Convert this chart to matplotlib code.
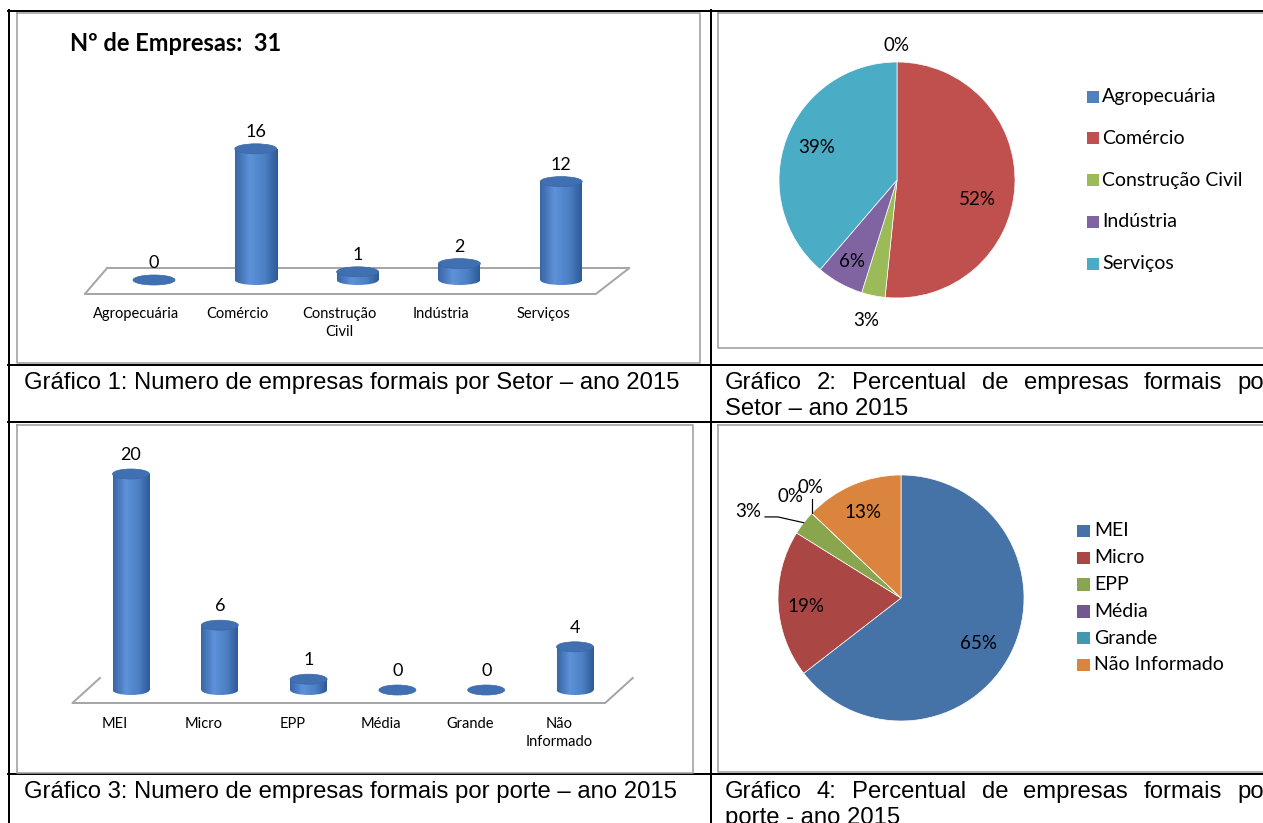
import numpy as np
import matplotlib
matplotlib.use("Agg")
import matplotlib.pyplot as plt
from matplotlib.patches import Ellipse, Rectangle
from matplotlib.colors import LinearSegmentedColormap

W, H = 1263, 823

# Gráfico 1 / 2 - setores
setores = ["Agropecuária", "Comércio", "Construção\nCivil", "Indústria", "Serviços"]
setores_legenda = ["Agropecuária", "Comércio", "Construção Civil", "Indústria", "Serviços"]
empresas_setor = [0, 16, 1, 2, 12]
cores_setor = ["#4F81BD", "#C0504D", "#9BBB59", "#8064A2", "#4BACC6"]

# Gráfico 3 / 4 - porte
portes = ["MEI", "Micro", "EPP", "Média", "Grande", "Não\nInformado"]
portes_legenda = ["MEI", "Micro", "EPP", "Média", "Grande", "Não Informado"]
empresas_porte = [20, 6, 1, 0, 0, 4]
cores_porte = ["#4572A7", "#AA4643", "#89A54E", "#71588F", "#4198AF", "#DB843D"]

legenda_1 = "Gráfico 1: Numero de empresas formais por Setor – ano 2015"
legenda_2 = (["Gráfico", "2:", "Percentual", "de", "empresas", "formais", "por"], "Setor – ano 2015")
legenda_3 = "Gráfico 3: Numero de empresas formais por porte – ano 2015"
legenda_4 = (["Gráfico", "4:", "Percentual", "de", "empresas", "formais", "por"], "porte - ano 2015")

FONTE = "Lato"
FONTE_DOC = "Liberation Sans"
PX = 0.72  # pontos por pixel a 100 dpi

cmap_cil = LinearSegmentedColormap.from_list(
    "cil", [(0, "#3A66A5"), (0.35, "#5D92DA"), (0.7, "#4C7FC4"), (1, "#2E5A98")])
cor_topo = "#4070B2"

fig = plt.figure(figsize=(W / 100, H / 100), dpi=100)
fundo = fig.add_axes([0, 0, 1, 1])
fundo.set_xlim(0, W)
fundo.set_ylim(H, 0)
fundo.set_axis_off()


def eixo_px(x0, y0, x1, y1):
    ax = fig.add_axes([x0 / W, 1 - y1 / H, (x1 - x0) / W, (y1 - y0) / H])
    ax.set_axis_off()
    ax.patch.set_alpha(0)
    return ax


def moldura(x0, y0, x1, y1):
    fundo.plot([x0, x1, x1, x0, x0], [y0, y0, y1, y1, y0], color="#A0A0A0", lw=1.6 * PX)


# tabela
for y in (10.5, 365, 422, 774):
    fundo.plot([8, W], [y, y], color="black", lw=2 * PX)
for x in (9, 710.5):
    fundo.plot([x, x], [10, H], color="black", lw=2 * PX)

moldura(16.5, 12.5, 700, 363)
moldura(718, 12.5, W + 5, 348)
moldura(16.5, 424.5, 693, 773)
moldura(718, 424.5, W + 5, 772)


def cilindros(caixa, valores, rotulos, c0, passo, base, pxu, larg_px, piso, fechado,
              dx_rot, dy_rot, dy_val):
    x0, y0, x1, y1 = caixa
    ax = eixo_px(x0, y0, x1, y1)
    n = len(valores)
    largura = larg_px / passo
    alt_el = 10 / pxu

    # piso em perspectiva
    (tras_e, tras_d, frente_e, frente_d, y_tras, y_frente) = piso
    xs = [-0.5 + tras_e, n - 0.5 + tras_d, n - 0.5 + frente_d, -0.5 + frente_e]
    ys = [(base - y_tras) / pxu] * 2 + [(base - y_frente) / pxu] * 2
    if fechado:
        ax.plot(xs + xs[:1], ys + ys[:1], color="#A6A6A6", lw=2 * PX, zorder=1)
    else:
        ax.plot([xs[0], xs[3], xs[2], xs[1]], [ys[0], ys[3], ys[2], ys[1]],
                color="#A6A6A6", lw=2 * PX, zorder=1)

    barras = ax.bar(range(n), valores, width=largura, color="#4A7BC0", zorder=2)
    grad = np.linspace(0, 1, 64).reshape(1, -1)
    for i, (b, v) in enumerate(zip(barras, valores)):
        if v > 0:
            im = ax.imshow(grad, cmap=cmap_cil, aspect="auto", interpolation="bilinear",
                           extent=(i - largura / 2, i + largura / 2, 0, v), zorder=2.1)
            im.set_clip_path(b)
            fundo_el = Ellipse((i, 0), largura, alt_el, facecolor="none", edgecolor="none")
            ax.add_patch(fundo_el)
            im2 = ax.imshow(grad, cmap=cmap_cil, aspect="auto", interpolation="bilinear",
                            extent=(i - largura / 2, i + largura / 2, -alt_el / 2, 0), zorder=2.1)
            im2.set_clip_path(fundo_el)
        ax.add_patch(Ellipse((i, v), largura, alt_el, facecolor=cor_topo,
                             edgecolor="#3A66A5", lw=0.5, zorder=3))
        ax.annotate(str(v), (i, v), xytext=(0, dy_val), textcoords="offset pixels",
                    ha="center", va="baseline", fontsize=13, family=FONTE)
        ax.annotate(rotulos[i], (i, 0), xytext=(dx_rot, dy_rot), textcoords="offset pixels",
                    ha="center", va="top", fontsize=10.5, family=FONTE, linespacing=1.35)

    ax.set_xlim((x0 - c0) / passo, (x1 - c0) / passo)
    ax.set_ylim((base - y1) / pxu, (base - y0) / pxu)
    return ax


ax1 = cilindros((16.5, 12.5, 700, 363), empresas_setor, setores,
                154, 101.8, 280, 8.2, 42,
                (0.04, 0.17, -0.18, -0.16, 268, 294), True, -18, -27, 12)
ax1.text(70, 43, f"Nº de Empresas:  {sum(empresas_setor)}", transform=fundo.transData,
         fontsize=17, fontweight="bold", family=FONTE, va="center", ha="left")

cilindros((16.5, 424.5, 693, 773), empresas_porte, portes,
          131, 88.8, 690, 10.8, 37,
          (0.15, 0.15, -0.16, -0.16, 678, 703), False, -16, -27, 14)


def pizza(cx, cy, R, valores, cores, posicoes, guias):
    S = 165
    ax = eixo_px(cx - S, cy - S, cx + S, cy + S)
    fatias, _ = ax.pie(valores, colors=cores, startangle=90, counterclock=False, radius=1,
                       wedgeprops=dict(edgecolor="white", linewidth=0.5))
    total = sum(valores)
    for k, (f, v) in enumerate(zip(fatias, valores)):
        meio = (f.theta1 + f.theta2) / 2
        r, d = posicoes[k]
        a = np.deg2rad(meio + d)
        tx, ty = r * np.cos(a), r * np.sin(a)
        if k in guias:
            ex, ey = np.cos(np.deg2rad(meio)), np.sin(np.deg2rad(meio))
            pts = [(ex, ey)] + [(ex + gx, ey + gy) for gx, gy in guias[k]]
            ax.plot(*zip(*pts), color="black", lw=1.2 * PX)
        ax.text(tx, ty, f"{round(100 * v / total)}%", ha="center", va="center",
                fontsize=13.5, family=FONTE)
    ax.set_xlim(-S / R, S / R)
    ax.set_ylim(-S / R, S / R)
    return ax


def legenda_px(x_q, x_t, y0, passo, lado, nomes, cores):
    for i, (nome, cor) in enumerate(zip(nomes, cores)):
        y = y0 + passo * i
        fundo.add_patch(Rectangle((x_q, y - lado / 2), lado, lado, facecolor=cor, edgecolor="none"))
        fundo.text(x_t, y, nome, ha="left", va="center", fontsize=14, family=FONTE)


pizza(897, 180, 118, empresas_setor, cores_setor,
      [(1.14, 0), (0.70, -11), (1.22, -0.8), (0.79, 0), (0.73, -1.7)], {})
legenda_px(1086.5, 1102, 96.7, 41.7, 12, setores_legenda, cores_setor)

pizza(901, 598, 123, empresas_porte, cores_porte,
      [(0.73, -4), (0.775, 2), (1.43, 8.3), (1.22, 1.2), (1.16, -6.9), (0.76, 1)],
      {2: [(-0.21, 0.047), (-0.315, 0.047)], 4: [(0, 0.117)]})
legenda_px(1077, 1094, 531, 26.8, 12.5, portes_legenda, cores_porte)

# legendas das figuras
TAM_DOC = 17.2
fundo.text(24, 389, legenda_1, fontsize=TAM_DOC, family=FONTE_DOC, va="baseline")
fundo.text(24, 798, legenda_3, fontsize=TAM_DOC, family=FONTE_DOC, va="baseline")

# texto justificado da coluna direita (a linha passa da borda da imagem)
renderer = fig.canvas.get_renderer()
x_esq, x_dir = 724.6, 1272
for (palavras, linha2), yb in ((legenda_2, 389), (legenda_4, 798)):
    textos = [fundo.text(0, yb, p, fontsize=TAM_DOC, family=FONTE_DOC, va="baseline")
              for p in palavras]
    larguras = [t.get_window_extent(renderer).width for t in textos]
    espaco = (x_dir - x_esq - sum(larguras)) / (len(palavras) - 1)
    x = x_esq
    for t, w in zip(textos, larguras):
        t.set_x(x)
        x += w + espaco
    fundo.text(x_esq, yb + 26, linha2, fontsize=TAM_DOC, family=FONTE_DOC, va="baseline")

fig.savefig("out.png", dpi=100, facecolor="white")
